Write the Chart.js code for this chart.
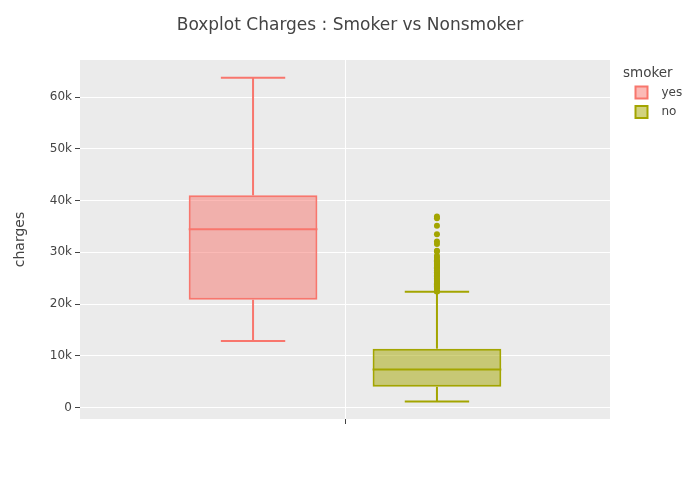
<!DOCTYPE html>
<html>
<head>
<meta charset="utf-8">
<script src="https://cdn.jsdelivr.net/npm/chart.js@4.4.1/dist/chart.umd.min.js"></script>
<style>
  html, body { margin: 0; padding: 0; background: #fff; }
  #wrap { width: 700px; height: 500px; }
</style>
</head>
<body>
<div id="wrap"><canvas id="chart"></canvas></div>
<script>
// ---------------------------------------------------------
// DATA
// ---------------------------------------------------------
const groups = ["yes", "no"];
const lowerWhisker = [12829, 1122];
const q1 = [20826, 3986];
const median = [34456, 7345];
const q3 = [41019, 11363];
const upperWhisker = [63770, 22396];
const outliers = [
  [],
  [36910, 36580, 35160, 33472, 32109, 31620, 30285, 30167, 29331, 28950,
   28469, 28288, 27941, 27724, 27534, 27346, 27117, 26927, 26467, 26237,
   26140, 25993, 25679, 25517, 25333, 24915, 24667, 24513, 24107, 23967,
   23888, 23807, 23563, 23401, 23307, 23289, 23083, 22494, 22462, 22413]
];
const yTicks = [0, 10000, 20000, 30000, 40000, 50000, 60000];

// styles
const lineColors = ["#f8766d", "#a3a500"];
const fillColors = ["rgba(248,118,109,0.5)", "rgba(163,165,0,0.5)"];
const FONT = "'DejaVu Sans', Verdana, sans-serif";
const TXT = "#444";

// ---------------------------------------------------------
// PLUGINS
// ---------------------------------------------------------
const plotBackground = {
  id: "plotBackground",
  beforeDraw(chart) {
    const { ctx, chartArea: a } = chart;
    ctx.save();
    ctx.fillStyle = "#ebebeb";
    ctx.fillRect(a.left, a.top, a.right - a.left, a.bottom - a.top);
    ctx.restore();
  }
};

// median, whiskers, caps and outlier points on top of the floating bars
const boxWhiskers = {
  id: "boxWhiskers",
  afterDatasetsDraw(chart) {
    const ctx = chart.ctx;
    const y = chart.scales.y;

    chart.data.datasets.forEach((ds, i) => {
      const bar = chart.getDatasetMeta(i).data[0];
      if (!bar) return;
      const x = bar.x;
      const half = bar.width / 2;

      ctx.save();
      ctx.strokeStyle = lineColors[i];
      ctx.lineWidth = 2;

      const seg = (x1, v1, x2, v2) => {
        ctx.beginPath();
        ctx.moveTo(x1, y.getPixelForValue(v1));
        ctx.lineTo(x2, y.getPixelForValue(v2));
        ctx.stroke();
      };

      seg(x - half, median[i], x + half, median[i]);
      seg(x, q3[i], x, upperWhisker[i]);
      seg(x, q1[i], x, lowerWhisker[i]);
      seg(x - half / 2, upperWhisker[i], x + half / 2, upperWhisker[i]);
      seg(x - half / 2, lowerWhisker[i], x + half / 2, lowerWhisker[i]);

      ctx.fillStyle = lineColors[i];
      outliers[i].forEach(v => {
        ctx.beginPath();
        ctx.arc(x, y.getPixelForValue(v), 3, 0, Math.PI * 2);
        ctx.fill();
      });
      ctx.restore();
    });
  }
};

// title centred on the whole canvas, legend drawn in the right margin
const sideLegend = {
  id: "sideLegend",
  afterLayout(chart) {
    if (chart.titleBlock) {
      chart.titleBlock.left = 0;
      chart.titleBlock.right = chart.width;
    }
  },
  afterDraw(chart) {
    const ctx = chart.ctx;
    const x0 = chart.chartArea.right + 13;
    const y0 = chart.chartArea.top + 13;

    ctx.save();
    ctx.fillStyle = TXT;
    ctx.textBaseline = "middle";
    ctx.textAlign = "left";
    ctx.font = "13.5px " + FONT;
    ctx.fillText("smoker", x0, y0);

    ctx.font = "12px " + FONT;
    chart.data.datasets.forEach((ds, i) => {
      const cy = y0 + 19.5 + i * 19.5;
      ctx.fillStyle = ds.backgroundColor;
      ctx.strokeStyle = ds.borderColor;
      ctx.lineWidth = 2;
      ctx.fillRect(x0 + 12.5, cy - 6, 12, 12);
      ctx.strokeRect(x0 + 12.5, cy - 6, 12, 12);
      ctx.fillStyle = TXT;
      ctx.fillText(ds.label, x0 + 38.5, cy);
    });
    ctx.restore();
  }
};

// ---------------------------------------------------------
// CHART
// ---------------------------------------------------------
const datasets = groups.map((g, i) => ({
  label: g,
  data: [[q1[i], q3[i]]],
  backgroundColor: fillColors[i],
  borderColor: lineColors[i],
  borderWidth: 2,
  borderSkipped: false,
  categoryPercentage: 0.694,
  barPercentage: 0.70
}));

new Chart(document.getElementById("chart"), {
  type: "bar",
  data: { labels: [""], datasets },
  options: {
    responsive: true,
    maintainAspectRatio: false,
    animation: false,
    layout: { padding: { left: 0, right: 90, top: 0, bottom: 0 } },
    scales: {
      x: {
        grid: { offset: false, color: "#fff", lineWidth: 1, tickColor: TXT, tickLength: 5 },
        border: { display: false },
        ticks: { color: TXT },
        afterFit: s => { s.height = 81; }
      },
      y: {
        min: -2240,
        max: 67200,
        afterBuildTicks: s => { s.ticks = yTicks.map(v => ({ value: v })); },
        grid: { color: "#fff", lineWidth: 1, tickColor: TXT, tickLength: 5 },
        border: { display: false },
        ticks: {
          color: TXT,
          padding: 3,
          font: { family: FONT, size: 12 },
          callback: v => v === 0 ? "0" : (v / 1000) + "k"
        },
        title: {
          display: true,
          text: "charges",
          color: TXT,
          font: { family: FONT, size: 14 },
          padding: { top: 12, bottom: 0 }
        },
        afterFit: s => { s.width = 80; }
      }
    },
    plugins: {
      title: {
        display: true,
        text: "Boxplot Charges : Smoker vs Nonsmoker",
        color: TXT,
        font: { family: FONT, size: 17, weight: "normal" },
        padding: { top: 15, bottom: 24.6 }
      },
      legend: { display: false },
      tooltip: { enabled: false }
    }
  },
  plugins: [plotBackground, boxWhiskers, sideLegend]
});
</script>
</body>
</html>
